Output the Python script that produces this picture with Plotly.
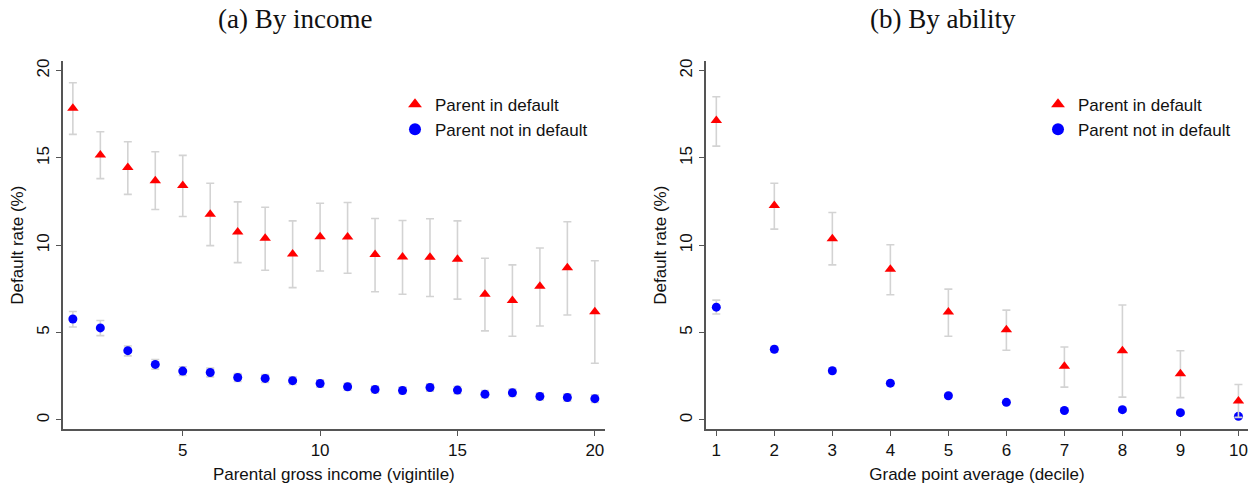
import plotly.graph_objects as go

# ---------------- data ----------------
income_x = list(range(1, 21))
inc_def = [17.85, 15.17, 14.45, 13.70, 13.42, 11.78, 10.76, 10.40, 9.50, 10.49,
           10.47, 9.47, 9.33, 9.32, 9.20, 7.20, 6.84, 7.66, 8.72, 6.20]
inc_def_hi = [19.31, 16.50, 15.93, 15.36, 15.15, 13.55, 12.49, 12.18, 11.40, 12.41,
              12.45, 11.54, 11.42, 11.52, 11.40, 9.26, 8.88, 9.85, 11.35, 9.12]
inc_def_lo = [16.35, 13.82, 12.92, 12.05, 11.65, 9.98, 9.01, 8.57, 7.58, 8.53,
              8.40, 7.34, 7.20, 7.07, 6.92, 5.10, 4.79, 5.38, 6.01, 3.25]
inc_nodef = [5.78, 5.27, 3.97, 3.18, 2.80, 2.72, 2.43, 2.38, 2.25, 2.09,
             1.90, 1.75, 1.69, 1.86, 1.71, 1.48, 1.56, 1.35, 1.29, 1.22]
inc_nodef_hi = [6.21, 5.70, 4.24, 3.46, 3.05, 2.97, 2.66, 2.60, 2.47, 2.30,
                2.10, 1.95, 1.88, 2.07, 1.92, 1.68, 1.77, 1.55, 1.50, 1.44]
inc_nodef_lo = [5.32, 4.83, 3.67, 2.91, 2.55, 2.47, 2.20, 2.15, 2.03, 1.88,
                1.70, 1.55, 1.50, 1.65, 1.50, 1.28, 1.35, 1.15, 1.08, 1.00]

gpa_x = list(range(1, 11))
gpa_def = [17.14, 12.28, 10.38, 8.63, 6.18, 5.17, 3.08, 3.96, 2.64, 1.08]
gpa_def_hi = [18.51, 13.55, 11.88, 10.03, 7.49, 6.29, 4.18, 6.58, 3.96, 2.03]
gpa_def_lo = [15.68, 10.93, 8.88, 7.17, 4.79, 3.99, 1.88, 1.31, 1.28, 0.15]
gpa_nodef = [6.46, 4.05, 2.82, 2.11, 1.39, 1.01, 0.54, 0.59, 0.42, 0.21]
gpa_nodef_hi = [6.86, 4.22, 2.98, 2.25, 1.49, 1.11, 0.64, 0.70, 0.52, 0.30]
gpa_nodef_lo = [6.07, 3.88, 2.66, 1.97, 1.29, 0.91, 0.44, 0.48, 0.32, 0.12]

y_ticks = [0, 5, 10, 15, 20]
inc_ticks = [5, 10, 15, 20]
gpa_ticks = list(range(1, 11))

series_names = ["Parent in default", "Parent not in default"]
panel_titles = ["(a) By income", "(b) By ability"]
x_titles = ["Parental gross income (vigintile)", "Grade point average (decile)"]
y_title = "Default rate (%)"

# ---------------- style ----------------
W, H = 1259, 487
RED, BLUE, CI = "#ff0000", "#0000ff", "#d3d3d3"
AX = "#555555"
SANS = "Liberation Sans, Arial, Helvetica, sans-serif"
SERIF = "Liberation Serif, Times New Roman, serif"
FS = 17

def err(vals, hi, lo):
    return dict(type="data", symmetric=False,
                array=[h - v for h, v in zip(hi, vals)],
                arrayminus=[v - l for v, l in zip(vals, lo)],
                color=CI, thickness=1.6, width=4)

fig = go.Figure()

def add_panel(x, d, dhi, dlo, n, nhi, nlo, xa, ya, leg):
    fig.add_trace(go.Scatter(x=x, y=n, mode="markers", name=series_names[1],
                             marker=dict(symbol="circle", size=9, color=BLUE),
                             error_y=err(n, nhi, nlo), xaxis=xa, yaxis=ya,
                             legend=leg, legendrank=2))
    fig.add_trace(go.Scatter(x=x, y=d, mode="markers", name=series_names[0],
                             marker=dict(symbol="triangle-up", size=10, color=RED),
                             error_y=err(d, dhi, dlo), xaxis=xa, yaxis=ya,
                             legend=leg, legendrank=1))

add_panel(income_x, inc_def, inc_def_hi, inc_def_lo,
          inc_nodef, inc_nodef_hi, inc_nodef_lo, "x", "y", "legend")
add_panel(gpa_x, gpa_def, gpa_def_hi, gpa_def_lo,
          gpa_nodef, gpa_nodef_hi, gpa_nodef_lo, "x2", "y2", "legend2")

ydom = [(H - 429) / H, (H - 59.3) / H]
xdom1 = [62.7 / W, 605 / W]
xdom2 = [705.7 / W, 1248.3 / W]

common_axis = dict(showline=True, linecolor=AX, linewidth=1.5, showgrid=False,
                   zeroline=False, ticks="outside", ticklen=5, tickwidth=1.2,
                   tickcolor=AX, tickfont=dict(family=SANS, size=FS, color="#111"),
                   title_font=dict(family=SANS, size=FS, color="#111"))

legend_style = dict(xanchor="left", yanchor="top", bgcolor="rgba(0,0,0,0)",
                    font=dict(family=SANS, size=FS, color="#111"),
                    tracegroupgap=0, itemsizing="constant")

fig.update_layout(
    width=W, height=H, margin=dict(l=0, r=0, t=0, b=0),
    plot_bgcolor="white", paper_bgcolor="white",
    xaxis=dict(domain=xdom1, range=[0.63, 20.37], tickvals=inc_ticks,
               title=dict(text=x_titles[0], standoff=9), anchor="y", **common_axis),
    yaxis=dict(domain=ydom, range=[-0.53, 20.55], tickvals=y_ticks, tickangle=-90,
               title=dict(text=y_title, standoff=6), anchor="x", **common_axis),
    xaxis2=dict(domain=xdom2, range=[0.817, 10.17], tickvals=gpa_ticks,
                title=dict(text=x_titles[1], standoff=9), anchor="y2", **common_axis),
    yaxis2=dict(domain=ydom, range=[-0.53, 20.55], tickvals=y_ticks, tickangle=-90,
                title=dict(text=y_title, standoff=6), anchor="x2", **common_axis),
    legend=dict(x=395 / W, y=(H - 85) / H, **legend_style),
    legend2=dict(x=1038 / W, y=(H - 85) / H, **legend_style),
    annotations=[
        dict(text=panel_titles[0], x=295 / W, y=(H - 17) / H, xref="paper", yref="paper",
             xanchor="center", yanchor="middle", showarrow=False,
             font=dict(family=SERIF, size=27, color="#111")),
        dict(text=panel_titles[1], x=943 / W, y=(H - 17) / H, xref="paper", yref="paper",
             xanchor="center", yanchor="middle", showarrow=False,
             font=dict(family=SERIF, size=27, color="#111")),
    ],
)

fig.write_html("out.html", config={"displayModeBar": False},
               post_script="document.body.style.margin='0';")
